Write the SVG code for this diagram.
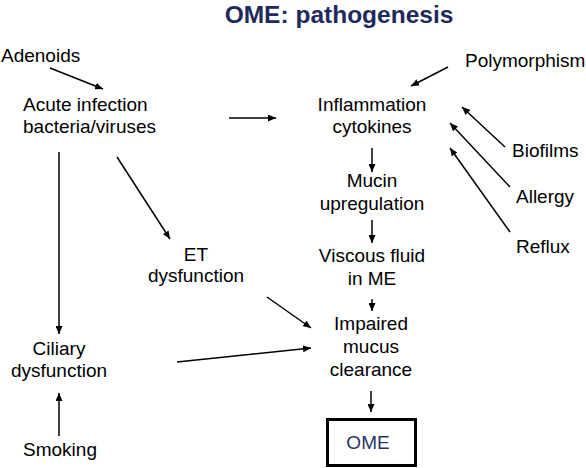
<svg xmlns="http://www.w3.org/2000/svg" width="586" height="468" viewBox="0 0 586 468">
<style>
text{font-family:"Liberation Sans",Arial,sans-serif;font-size:19px;fill:#000}
.c{text-anchor:middle}
.title{font-size:24.5px;font-weight:bold;fill:#1f2a5c}
.conn line{stroke:#000;stroke-width:1.5;marker-end:url(#ah)}
</style>
<defs>
<marker id="ah" markerUnits="userSpaceOnUse" markerWidth="8" markerHeight="7" refX="8" refY="3.5" orient="auto">
<path d="M0,0 L8,3.5 L0,7 z" fill="#000"/>
</marker>
</defs>
<rect width="586" height="468" fill="#fff"/>
<text class="title c" x="339" y="22.5">OME: pathogenesis</text>
<g id="adenoids"><text x="1" y="62">Adenoids</text></g>
<g id="acute"><text x="23" y="111">Acute infection</text><text x="23" y="133">bacteria/viruses</text></g>
<g id="polymorphism"><text x="465" y="67">Polymorphism</text></g>
<g id="inflammation"><text class="c" x="372" y="111">Inflammation</text><text class="c" x="372" y="133">cytokines</text></g>
<g id="biofilms"><text x="512" y="157">Biofilms</text></g>
<g id="allergy"><text x="516" y="203">Allergy</text></g>
<g id="reflux"><text x="516" y="253">Reflux</text></g>
<g id="mucin"><text class="c" x="372" y="187">Mucin</text><text class="c" x="372" y="210">upregulation</text></g>
<g id="viscous"><text class="c" x="372" y="262">Viscous fluid</text><text class="c" x="372" y="285">in ME</text></g>
<g id="et"><text class="c" x="196" y="261">ET</text><text class="c" x="196" y="282">dysfunction</text></g>
<g id="impaired"><text class="c" x="371" y="330">Impaired</text><text class="c" x="371" y="353">mucus</text><text class="c" x="371" y="376">clearance</text></g>
<g id="ciliary"><text class="c" x="59" y="355">Ciliary</text><text class="c" x="59" y="377">dysfunction</text></g>
<g id="smoking"><text class="c" x="60" y="456">Smoking</text></g>
<g id="ome"><rect x="327.5" y="419.5" width="88" height="46" fill="none" stroke="#000" stroke-width="3"/><text class="c" x="368" y="449" style="fill:#2b3560">OME</text></g>
<g class="conn" id="connectors">
<line x1="50" y1="68" x2="103" y2="89"/>
<line x1="229" y1="118" x2="276" y2="118"/>
<line x1="448" y1="67" x2="411" y2="86"/>
<line x1="505" y1="147" x2="462" y2="107"/>
<line x1="510" y1="187" x2="450" y2="123"/>
<line x1="510" y1="232" x2="450" y2="148"/>
<line x1="372" y1="148" x2="372" y2="172"/>
<line x1="372" y1="220" x2="372" y2="243"/>
<line x1="372" y1="299" x2="372" y2="311"/>
<line x1="117" y1="157" x2="170" y2="239"/>
<line x1="267" y1="297" x2="311" y2="328"/>
<line x1="177" y1="362" x2="311" y2="348"/>
<line x1="59" y1="152" x2="59" y2="334"/>
<line x1="59" y1="436" x2="59" y2="393"/>
<line x1="371" y1="391" x2="371" y2="412"/>
</g>
</svg>
